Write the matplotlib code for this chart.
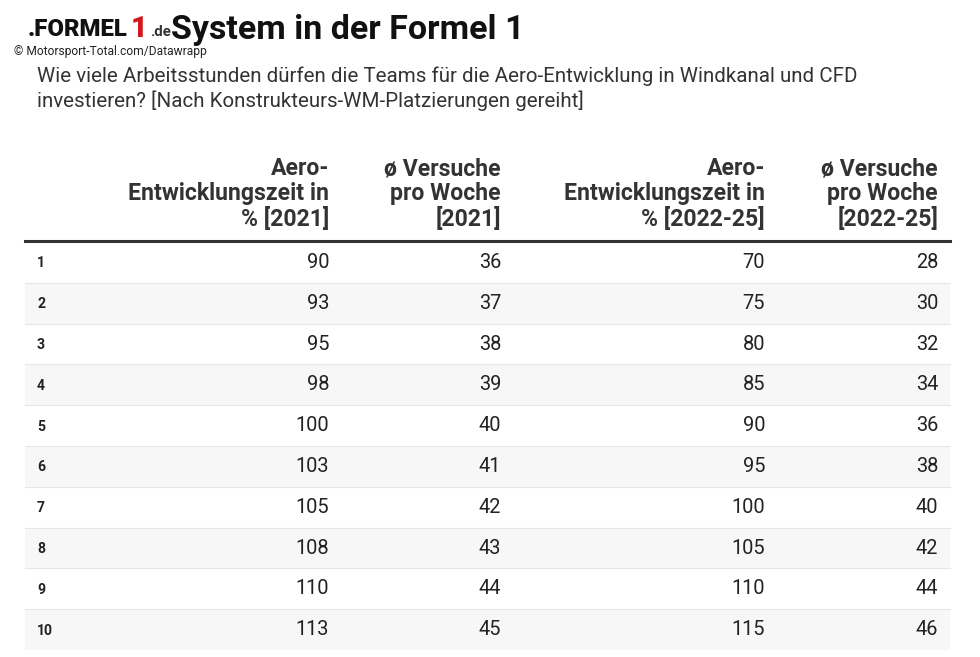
import numpy as np
import matplotlib.pyplot as plt

plt.rcParams['font.family'] = ['Roboto', 'DejaVu Sans']

ranks = [1, 2, 3, 4, 5, 6, 7, 8, 9, 10]
aero_2021 = [90, 93, 95, 98, 100, 103, 105, 108, 110, 113]
runs_2021 = [36, 37, 38, 39, 40, 41, 42, 43, 44, 45]
aero_2225 = [70, 75, 80, 85, 90, 95, 100, 105, 110, 115]
runs_2225 = [28, 30, 32, 34, 36, 38, 40, 42, 44, 46]
headers = ["Aero-\nEntwicklungszeit in\n% [2021]",
           "ø Versuche\npro Woche\n[2021]",
           "Aero-\nEntwicklungszeit in\n% [2022-25]",
           "ø Versuche\npro Woche\n[2022-25]"]

title = "System in der Formel 1"
subtitle = ("Wie viele Arbeitsstunden dürfen die Teams für die Aero-Entwicklung in Windkanal und CFD\n"
            "investieren? [Nach Konstrukteurs-WM-Platzierungen gereiht]")
credit = "© Motorsport-Total.com/Datawrapp"

W, H = 980, 657
fig = plt.figure(figsize=(W / 100, H / 100), dpi=100)
ax = fig.add_axes([0, 0, 1, 1])
ax.set_xlim(0, W)
ax.set_ylim(H, 0)
ax.axis('off')

def pt(px):
    return px * 0.72

# pixel layout
x_left, x_right = 25, 950
col_right = [329, 501, 765, 938]
row_top = 242
row_h = 40.8
header_rule = 241

# row backgrounds (even rows shaded)
ys = row_top + row_h * (np.arange(len(ranks)) + 0.5)
shade = ['#f7f7f7' if r % 2 == 0 else 'white' for r in ranks]
ax.barh(ys, x_right - x_left, left=x_left, height=row_h, color=shade, zorder=0)
for k in range(1, len(ranks)):
    yl = row_top + row_h * k
    ax.plot([x_left, x_right], [yl, yl], color='#e6e6e6', lw=0.8, zorder=1)
ax.plot([x_left, x_right], [header_rule, header_rule], color='#333333', lw=2.2, zorder=2)

# headers
for cx, h in zip(col_right, headers):
    ax.text(cx, 231, h, ha='right', va='bottom', fontsize=pt(23), fontweight='bold',
            color='#333333', linespacing=1.1)

# body
cols = [aero_2021, runs_2021, aero_2225, runs_2225]
for i, r in enumerate(ranks):
    y = ys[i]
    ax.text(37, y + 1, str(r), ha='left', va='center', fontsize=pt(14),
            fontweight='bold', color='#222222')
    for cx, col in zip(col_right, cols):
        ax.text(cx, y, str(col[i]), ha='right', va='center', fontsize=pt(20),
                color='#222222')

# title, logo, credit
ax.text(171, 30, title, ha='left', va='center', fontsize=pt(34), fontweight='bold',
        color='#111111')
ax.text(28, 30, ".FORMEL", ha='left', va='center', fontsize=pt(24), fontweight='black',
        color='#111111')
ax.text(131, 29, "1", ha='left', va='center', fontsize=pt(29), fontweight='black',
        color='#d5171e')
ax.text(150, 32, ".de", ha='left', va='center', fontsize=pt(15), fontweight='bold',
        color='#333333')
ax.text(14, 52, credit, ha='left', va='center', fontsize=pt(12), color='#222222')
ax.text(37, 89, subtitle, ha='left', va='center', fontsize=pt(20.5), color='#333333',
        linespacing=1.3)

fig.savefig('out.png', dpi=100)
